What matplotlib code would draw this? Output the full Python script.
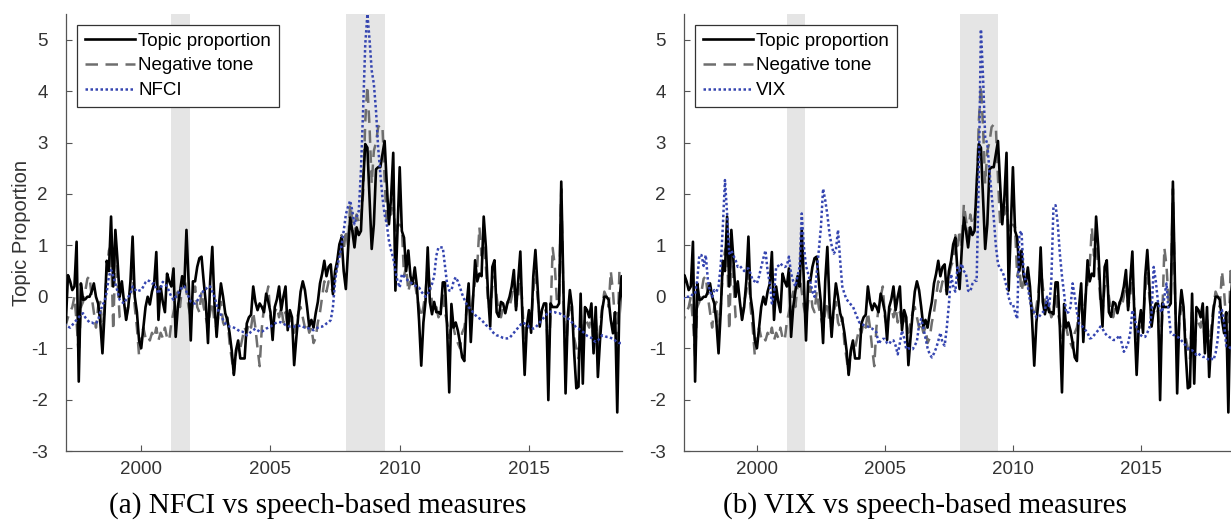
import numpy as np
import pandas as pd
import matplotlib
matplotlib.use("Agg")
import matplotlib.pyplot as plt


# monthly observations, Jan 1997 .. Dec 2018 (12 values per row)
months = pd.date_range("1997-01-01", "2018-12-01", freq="MS")

topic = [
    -0.55, -0.5, 0.42, 0.3, 0.13, 0.2, 1.07, -1.65, 0.26, -0.06, -0.05, 0.0,      # 1997
    0.0, 0.1, 0.26, 0.0, -0.13, -0.5, -1.1, -0.3, 0.7, 0.5, 1.56, 0.2,            # 1998
    1.3, 0.7, 0.0, 0.3, -0.1, -0.45, -0.2, 0.3, 1.17, 0.0, -0.3, -0.85,           # 1999
    -1.0, -0.6, -0.2, 0.0, -0.15, 0.1, 0.25, 0.87, -0.45, 0.2, -0.1, -0.3,        # 2000
    0.45, 0.3, 0.2, 0.55, -0.78, -0.2, 0.1, 0.4, 0.2, 1.3, 0.3, -0.85,           # 2001
    0.3, 0.3, 0.58, 0.75, 0.78, 0.3, -0.13, -0.9, 0.3, 0.97, -0.13, -0.78,        # 2002
    -0.2, 0.26, 0.0, -0.32, -0.45, -0.7, -1.04, -1.52, -1.04, -0.85, -1.2, -1.2,  # 2003
    -1.2, -0.52, -0.4, -0.35, 0.2, -0.1, -0.26, -0.13, -0.2, -0.3, 0.06, -0.1,    # 2004
    -0.3, -0.84, -0.2, -0.05, 0.2, -0.26, 0.0, 0.2, -0.65, -0.26, -0.4, -1.33,    # 2005
    -0.8, -0.32, 0.1, 0.3, 0.13, -0.2, -0.58, -0.45, -0.6, -0.32, -0.1, 0.26,     # 2006
    0.45, 0.7, 0.4, 0.58, 0.63, 0.05, 0.5, 0.7, 1.02, 1.15, 0.5, 0.15,            # 2007
    0.9, 1.54, 1.28, 0.96, 1.35, 1.2, 1.28, 2.2, 2.97, 2.9, 1.93, 0.93,           # 2008
    1.41, 2.48, 2.52, 2.52, 2.78, 3.03, 2.19, 1.41, 1.93, 2.8, 0.12, 1.3,         # 2009
    2.52, 1.28, 1.15, 0.5, 0.9, 0.4, 0.25, 0.57, 0.2, -0.47, -1.34, -0.5,         # 2010
    -0.08, 0.96, -0.1, -0.34, -0.1, -0.3, -0.3, -0.34, 0.28, 0.28, -0.6, -1.86,   # 2011
    -0.14, -0.6, -0.5, -0.66, -0.9, -1.18, -1.25, -0.2, 0.26, -0.88, -0.1, 0.71,  # 2012
    0.3, 0.45, 0.4, 1.56, 0.97, 0.06, -0.58, 0.58, 0.71, -0.3, -0.39, -0.1,       # 2013
    -0.13, -0.32, -0.13, 0.0, 0.2, 0.52, -0.26, 0.3, 0.88, -0.45, -1.52, -0.58,   # 2014
    -0.26, -0.7, 0.39, 0.91, 0.2, -0.58, -0.26, -0.13, -0.13, -2.01, -0.13, -0.2, # 2015
    -0.2, -0.2, -0.13, 2.24, 0.2, -1.88, -0.4, 0.13, -0.2, -1.1, -1.78, -1.75,    # 2016
    0.06, -1.69, -0.2, -0.26, -0.4, -0.13, -1.1, -0.2, -1.56, -0.84, -0.26, 0.0,  # 2017
    0.0, -0.06, -0.45, -0.71, -0.3, -2.25, -0.1, 0.4, -0.5, -0.3, 0.2, -0.4,      # 2018
]

tone = [
    -0.6, -0.55, -0.4, -0.3, -0.2, 0.0, -0.5, -1.15, -0.2, -0.1, 0.1, 0.35,       # 1997
    0.4, 0.0, -0.3, -0.6, -0.2, -0.1, -0.7, -0.2, 0.5, 0.9, 1.0, -0.65,           # 1998
    0.8, 0.3, -0.4, -0.45, -0.45, -0.45, -0.1, 0.1, 0.5, -0.2, -0.6, -1.15,       # 1999
    -0.8, -0.6, -0.8, -0.75, -0.85, -0.7, -0.8, -0.6, -0.85, -0.7, -0.8, -0.6,    # 2000
    -0.8, -0.85, -0.5, -0.3, -0.1, 0.1, -0.2, 0.2, 0.4, 0.1, -0.2, -0.4,          # 2001
    -0.1, 0.2, -0.2, -0.3, 0.1, -0.2, -0.4, -0.6, -0.3, -0.1, -0.5, -0.6,         # 2002
    -0.3, -0.1, -0.5, -0.6, -0.4, -0.9, -1.2, -1.5, -1.1, -0.9, -1.0, -0.8,       # 2003
    -0.6, -0.7, -0.5, -0.6, -0.3, -0.6, -1.0, -1.35, -0.6, -0.2, 0.0, 0.2,        # 2004
    -0.4, -0.6, -0.3, -0.2, -0.4, -0.2, -0.5, -0.3, -0.6, -0.4, -0.5, -0.7,       # 2005
    -0.5, -0.3, -0.2, -0.4, -0.6, -0.5, -0.7, -0.6, -0.9, -0.8, -0.5, -0.3,       # 2006
    0.0, 0.3, 0.1, 0.3, 0.2, 0.1, 0.4, 0.6, 0.7, 1.2, 0.9, 1.3,                   # 2007
    1.0, 1.8, 1.5, 1.2, 1.6, 1.4, 1.5, 2.0, 3.4, 4.1, 3.3, 2.2,                   # 2008
    2.84, 3.0, 3.3, 3.35, 3.3, 2.3, 1.41, 1.8, 1.6, 1.9, 1.2, 1.4,                # 2009
    1.4, 1.35, 0.4, 0.6, 0.1, 0.3, 0.2, 0.3, 0.0, -0.2, -0.4, -0.2,               # 2010
    0.1, 0.6, 0.2, -0.1, -0.3, -0.2, -0.4, -0.3, 0.1, -0.3, -0.5, -0.8,           # 2011
    -0.5, -0.6, -0.8, -0.9, -1.0, -0.7, -0.6, -0.3, -0.1, -0.4, 0.0, 0.3,         # 2012
    0.6, 1.35, 0.8, 1.0, 0.6, -0.1, -0.3, 0.2, 0.4, 0.0, -0.3, -0.4,              # 2013
    -0.2, -0.3, -0.1, -0.2, 0.0, 0.3, -0.2, 0.0, 0.5, -0.2, -0.9, -0.5,           # 2014
    -0.6, -0.5, 0.1, 0.5, 0.0, -0.4, -0.3, -0.2, -0.3, -1.2, -0.4, 0.95,          # 2015
    0.6, -0.1, 0.0, 2.1, 0.0, -1.2, -0.5, -0.2, -0.3, -0.8, -1.0, -1.2,           # 2016
    -0.3, -1.2, -0.4, -0.5, -0.6, -0.3, -0.9, -0.4, -1.0, -0.6, -0.2, 0.1,        # 2017
    0.0, -0.2, 0.5, 0.1, -0.5, -1.0, 0.5, 0.3, 0.0, -0.3, 0.1, -0.2,              # 2018
]

nfci = [
    -0.55, -0.55, -0.58, -0.6, -0.55, -0.5, -0.45, -0.4, -0.35, -0.32, -0.4, -0.45,   # 1997
    -0.5, -0.5, -0.52, -0.52, -0.45, -0.3, -0.15, -0.1, 0.1, 0.4, 0.52, 0.4,          # 1998
    0.26, 0.1, -0.06, -0.1, -0.13, -0.05, 0.0, 0.06, 0.2, 0.15, 0.1, 0.12,            # 1999
    0.13, 0.2, 0.28, 0.32, 0.3, 0.26, 0.26, 0.15, 0.06, 0.15, 0.29, 0.25,             # 2000
    0.2, 0.1, 0.0, -0.06, 0.0, 0.06, 0.12, 0.2, 0.2, 0.1, 0.0, -0.1,                  # 2001
    -0.13, -0.13, -0.08, 0.0, 0.05, 0.13, 0.15, 0.2, 0.2, 0.1, 0.0, -0.15,            # 2002
    -0.3, -0.35, -0.45, -0.52, -0.55, -0.58, -0.58, -0.6, -0.62, -0.65, -0.68, -0.68, # 2003
    -0.7, -0.75, -0.72, -0.68, -0.65, -0.62, -0.65, -0.68, -0.68, -0.65, -0.62, -0.6, # 2004
    -0.58, -0.55, -0.52, -0.5, -0.49, -0.5, -0.52, -0.55, -0.56, -0.58, -0.58, -0.58, # 2005
    -0.58, -0.57, -0.56, -0.58, -0.6, -0.6, -0.62, -0.64, -0.65, -0.63, -0.6, -0.58,  # 2006
    -0.58, -0.56, -0.52, -0.5, -0.45, -0.2, 0.3, 0.6, 0.77, 1.0, 1.28, 1.6,           # 2007
    1.75, 1.87, 1.67, 1.41, 1.55, 1.67, 2.45, 3.62, 4.9, 5.5, 5.0, 4.4,               # 2008
    4.14, 3.62, 2.9, 2.4, 1.93, 1.6, 1.41, 1.09, 0.9, 0.75, 0.5, 0.3,                 # 2009
    0.18, 0.44, 0.4, 0.35, 0.31, 0.28, 0.25, 0.22, 0.2, 0.18, 0.1, 0.05,              # 2010
    0.0, 0.05, 0.15, 0.25, 0.4, 0.8, 0.96, 0.96, 0.96, 0.6, 0.25, 0.12,               # 2011
    0.12, 0.3, 0.38, 0.3, 0.18, 0.05, -0.05, -0.14, -0.2, -0.25, -0.3, -0.35,         # 2012
    -0.4, -0.42, -0.45, -0.5, -0.55, -0.58, -0.62, -0.68, -0.72, -0.75, -0.76, -0.78, # 2013
    -0.8, -0.81, -0.81, -0.8, -0.75, -0.7, -0.65, -0.6, -0.55, -0.5, -0.52, -0.55,    # 2014
    -0.58, -0.6, -0.62, -0.6, -0.55, -0.5, -0.45, -0.4, -0.35, -0.3, -0.29, -0.3,     # 2015
    -0.3, -0.32, -0.32, -0.34, -0.37, -0.4, -0.42, -0.45, -0.5, -0.55, -0.6, -0.62,   # 2016
    -0.65, -0.68, -0.72, -0.76, -0.78, -0.8, -0.85, -0.88, -0.85, -0.8, -0.75, -0.76, # 2017
    -0.78, -0.78, -0.8, -0.82, -0.85, -0.88, -0.9, -0.9, -0.88, -0.85, -0.85, -0.85,  # 2018
]

vix = [
    -0.1, -0.1, 0.0, 0.0, 0.0, 0.0, 0.06, 0.06, 0.32, 0.81, 0.81, 0.6,               # 1997
    0.81, 0.32, 0.1, 0.0, 0.13, 0.1, 0.2, 0.6, 1.36, 2.27, 1.62, 0.84,               # 1998
    0.9, 0.8, 0.71, 0.58, 0.6, 0.55, 0.5, 0.55, 0.55, 0.45, 0.32, 0.3,               # 1999
    0.26, 0.4, 0.58, 0.75, 0.9, 0.5, 0.26, -0.13, 0.06, 0.58, 0.6, 0.65,             # 2000
    0.6, 0.58, 0.6, 0.78, 0.45, 0.3, 0.2, 0.4, 0.58, 1.62, 0.97, 0.6,                # 2001
    0.45, 0.3, 0.1, 0.0, 0.45, 0.9, 1.36, 2.1, 1.88, 1.6, 1.23, 1.0,                 # 2002
    0.84, 0.9, 1.3, 0.71, 0.2, 0.06, -0.05, -0.1, -0.15, -0.19, -0.3, -0.4,          # 2003
    -0.5, -0.52, -0.55, -0.56, -0.58, -0.6, -0.62, -0.65, -0.69, -0.92, -0.85, -0.82, # 2004
    -0.82, -0.9, -0.92, -0.85, -0.85, -0.95, -1.12, -0.9, -0.66, -0.8, -1.02, -1.0,  # 2005
    -1.02, -1.02, -0.95, -0.86, -0.55, -0.43, -0.6, -0.8, -1.0, -1.12, -1.18, -1.1,  # 2006
    -1.0, -0.86, -0.7, -0.9, -0.95, -0.6, -0.14, 0.44, 0.2, 0.1, 0.57, 0.5,          # 2007
    0.64, 0.5, 0.45, 0.12, 0.1, 0.25, 0.31, 0.31, 2.32, 5.2, 4.27, 3.1,              # 2008
    2.97, 2.45, 2.0, 1.54, 1.0, 0.64, 0.54, 0.5, 0.38, 0.2, -0.01, -0.14,            # 2009
    -0.14, -0.3, -0.43, 1.22, 1.28, 0.5, 0.3, 0.2, -0.08, -0.27, -0.3, -0.4,         # 2010
    -0.4, -0.35, -0.3, -0.26, 0.0, -0.2, 0.3, 1.75, 1.78, 1.43, 0.84, 0.4,           # 2011
    0.06, -0.32, -0.3, -0.2, 0.26, 0.0, -0.3, -0.52, -0.55, -0.6, -0.65, -0.7,       # 2012
    -0.81, -0.8, -0.75, -0.7, -0.65, -0.58, -0.62, -0.7, -0.75, -0.78, -0.8, -0.84,  # 2013
    -0.84, -0.8, -0.75, -0.9, -1.07, -1.0, -0.9, -0.7, -0.26, -0.4, -0.6, -0.7,      # 2014
    -0.75, -0.78, -0.78, -0.7, -0.6, -0.32, 0.58, 0.3, -0.1, -0.25, -0.3, 0.0,       # 2015
    0.26, -0.3, -0.71, -0.74, -0.75, -0.78, -0.8, -0.85, -0.9, -0.95, -1.0, -1.04,   # 2016
    -1.04, -1.08, -1.13, -1.1, -1.15, -1.17, -1.17, -1.2, -1.23, -1.2, -1.23, -1.1,  # 2017
    -0.84, -0.26, -0.26, -0.5, -0.96, -0.96, -1.0, -1.0, -1.0, -0.3, -0.2, 0.3,      # 2018
]

# NBER recessions (decimal years)
recessions = [(2001.17, 2001.87), (2007.92, 2009.42)]
year_ticks = [2000, 2005, 2010, 2015]
captions = ["(a) NFCI vs speech-based measures", "(b) VIX vs speech-based measures"]

dates = months.year + (months.month - 1) / 12.0

plt.rcParams['font.family'] = ['Liberation Sans', 'DejaVu Sans']
plt.rcParams['axes.unicode_minus'] = False

W, H = 1231, 521
fig = plt.figure(figsize=(W / 100, H / 100), dpi=100)
ax1 = fig.add_axes([66 / W, 1 - 451 / H, 556 / W, 437 / H])
ax2 = fig.add_axes([684 / W, 1 - 451 / H, 547 / W, 437 / H])


def draw(ax, other, other_label, xlim):
    for a, b in recessions:
        ax.axvspan(a, b, color='#e5e5e5', lw=0, zorder=0)
    ax.plot(dates, topic, color='black', lw=1.9, label='Topic proportion', zorder=3)
    ax.plot(dates, tone, color='#6e6e6e', lw=1.8, ls=(0, (5, 3)), label='Negative tone', zorder=2)
    ax.plot(dates, other, color='#3545b0', lw=1.8, ls=(0, (1, 1)), label=other_label, zorder=4)
    ax.set_xlim(*xlim)
    ax.set_ylim(-3, 5.5)
    ax.set_xticks(year_ticks)
    ax.set_yticks(range(-3, 6))
    for s in ['top', 'right']:
        ax.spines[s].set_visible(False)
    for s in ['left', 'bottom']:
        ax.spines[s].set_color('#555555')
        ax.spines[s].set_linewidth(0.9)
    ax.tick_params(direction='in', length=4, width=0.8, color='#555555',
                   labelcolor='#333333', labelsize=13.5)
    ax.tick_params(axis='y', pad=13)
    ax.tick_params(axis='x', pad=7)
    leg = ax.legend(loc='upper left', fontsize=13.5, handlelength=2.7, handletextpad=0.15,
                    borderpad=0.4, labelspacing=0.4, borderaxespad=0.6,
                    fancybox=False, framealpha=1, edgecolor='#333333')
    leg.get_frame().set_linewidth(0.9)


draw(ax1, nfci, 'NFCI', (1997.09, 2018.6))
draw(ax2, vix, 'VIX', (1997.15, 2018.52))
ax1.set_ylabel('Topic Proportion', fontsize=14.5, color='#333333')
ax1.yaxis.set_label_coords(-35 / 556, 0.5)

fig.text(318 / W, 1 - 506 / H, captions[0], ha='center', va='center',
         fontsize=21, family='Liberation Serif')
fig.text(925 / W, 1 - 506 / H, captions[1], ha='center', va='center',
         fontsize=21, family='Liberation Serif')

fig.savefig('out.png', dpi=100)
